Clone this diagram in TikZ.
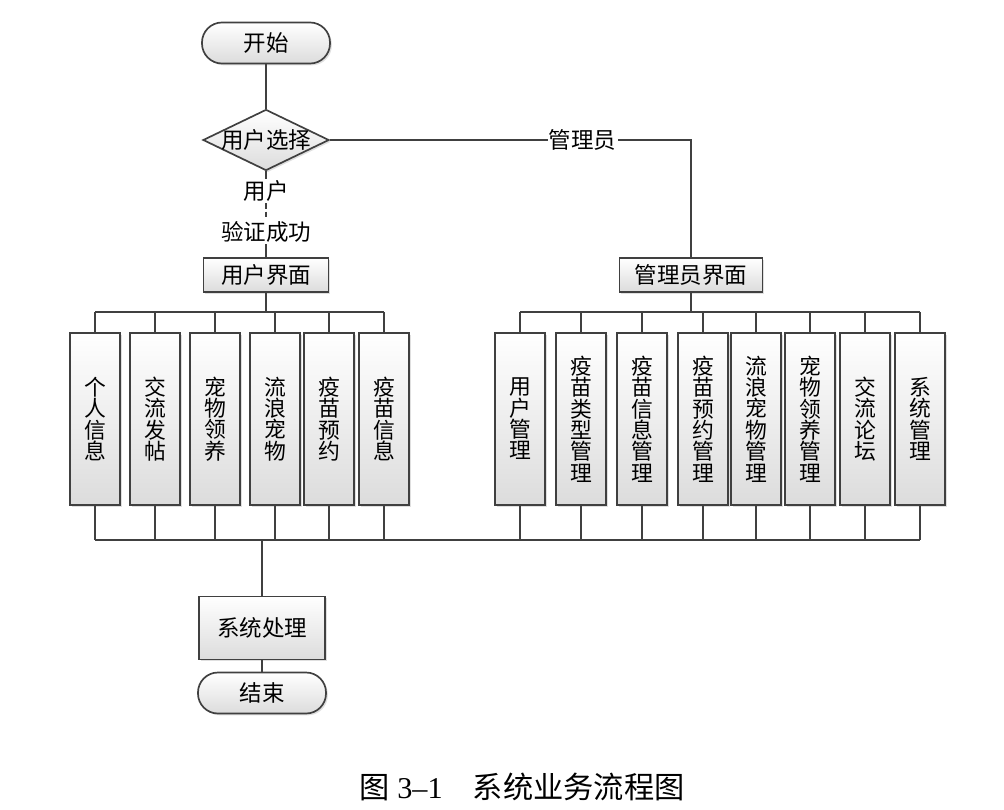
\documentclass[tikz,border=0pt]{standalone}
\usepackage{fontspec}
\setmainfont{Liberation Serif}
\newfontfamily\cjk{Noto Sans CJK SC}
\usetikzlibrary{positioning,shapes.geometric,shadows}
\definecolor{LineGray}{RGB}{64,64,64}
\definecolor{FillGray}{RGB}{220,220,220}
\tikzset{
  box/.style={draw=LineGray,line width=1.2pt,top color=white,bottom color=FillGray,align=center,text=black,font=\cjk\fontsize{16}{18}\selectfont,inner sep=2pt,drop shadow={shadow xshift=1.3pt,shadow yshift=-1.3pt,opacity=.25}},
  term/.style={box,rounded corners=.5cm,minimum width=3.2cm,minimum height=1.025cm},
  decision/.style={box,diamond,aspect=2,inner sep=-3pt,minimum width=3.15cm,minimum height=1.525cm},
  uibox/.style={box,minimum height=.86cm},
  colbox/.style={box,minimum width=1.25cm,minimum height=4.3cm,text width=.6cm,font=\cjk\fontsize{15.5}{15.2}\selectfont},
  lbl/.style={fill=white,inner sep=1pt,text=black,font=\cjk\fontsize{16}{18}\selectfont},
  flow/.style={draw=LineGray,line width=1.2pt},
  caption/.style={font=\fontsize{21.5}{25}\selectfont,text=black}
}
\begin{document}
\begin{tikzpicture}[x=.025cm,y=-.025cm]
  \useasboundingbox (0,0) rectangle (1004,809);
  % top part
  \node[term] (start) at (266,43) {开始};
  \node[decision] (choice) at (266,140) {用户选择};
  \node[lbl] (lblUser) at (266,191) {用户};
  \node[lbl] (lblOk) at (266,232) {验证成功};
  \node[uibox,minimum width=3.125cm] (userUI) at (266,275) {用户界面};
  \node[uibox,minimum width=3.575cm] (adminUI) at (691,275) {管理员界面};
  \draw[flow] (start)--(choice);
  \draw[flow] (choice.south)--(lblUser);
  \draw[flow,dash pattern=on 4pt off 2pt] (lblUser)--(lblOk);
  \draw[flow] (lblOk)--(userUI);
  \draw[flow] (choice.east) -| node[lbl,pos=.35] {管理员} (adminUI.north);
  % user functions
  \coordinate (ubus) at (266,312);
  \foreach \i/\x/\t in {1/95/个\\人\\信\\息,2/155/交\\流\\发\\帖,3/215/宠\\物\\领\\养,4/275/流\\浪\\宠\\物,5/329/疫\\苗\\预\\约,6/384/疫\\苗\\信\\息}
    \node[colbox] (u\i) at (\x,419) {\t};
  % admin functions
  \coordinate (abus) at (691,312);
  \foreach \i/\x/\t in {1/520/用\\户\\管\\理,2/581/疫\\苗\\类\\型\\管\\理,3/642/疫\\苗\\信\\息\\管\\理,4/703/疫\\苗\\预\\约\\管\\理,5/756/流\\浪\\宠\\物\\管\\理,6/810/宠\\物\\领\\养\\管\\理,7/865/交\\流\\论\\坛,8/920/系\\统\\管\\理}
    \node[colbox] (a\i) at (\x,419) {\t};
  \draw[flow] (userUI)--(ubus);
  \draw[flow] (u1.north |- ubus)--(u6.north |- ubus);
  \foreach \i in {1,...,6} \draw[flow] (u\i.north |- ubus)--(u\i.north);
  \draw[flow] (adminUI)--(abus);
  \draw[flow] (a1.north |- abus)--(a8.north |- abus);
  \foreach \i in {1,...,8} \draw[flow] (a\i.north |- abus)--(a\i.north);
  % bottom part
  \node[box,minimum width=3.15cm,minimum height=1.575cm] (proc) at (262,628) {系统处理};
  \node[term] (stop) at (262,693) {结束};
  \coordinate (bbus) at (262,540);
  \draw[flow] (u1.south |- bbus)--(a8.south |- bbus);
  \foreach \i in {1,...,6} \draw[flow] (u\i.south)--(u\i.south |- bbus);
  \foreach \i in {1,...,8} \draw[flow] (a\i.south)--(a\i.south |- bbus);
  \draw[flow] (bbus)--(proc);
  \draw[flow] (proc)--(stop);
  \node[caption] (cap) at (522,787) {{\cjk 图} 3–1\hspace{1em}{\cjk 系统业务流程图}};
\end{tikzpicture}
\end{document}
